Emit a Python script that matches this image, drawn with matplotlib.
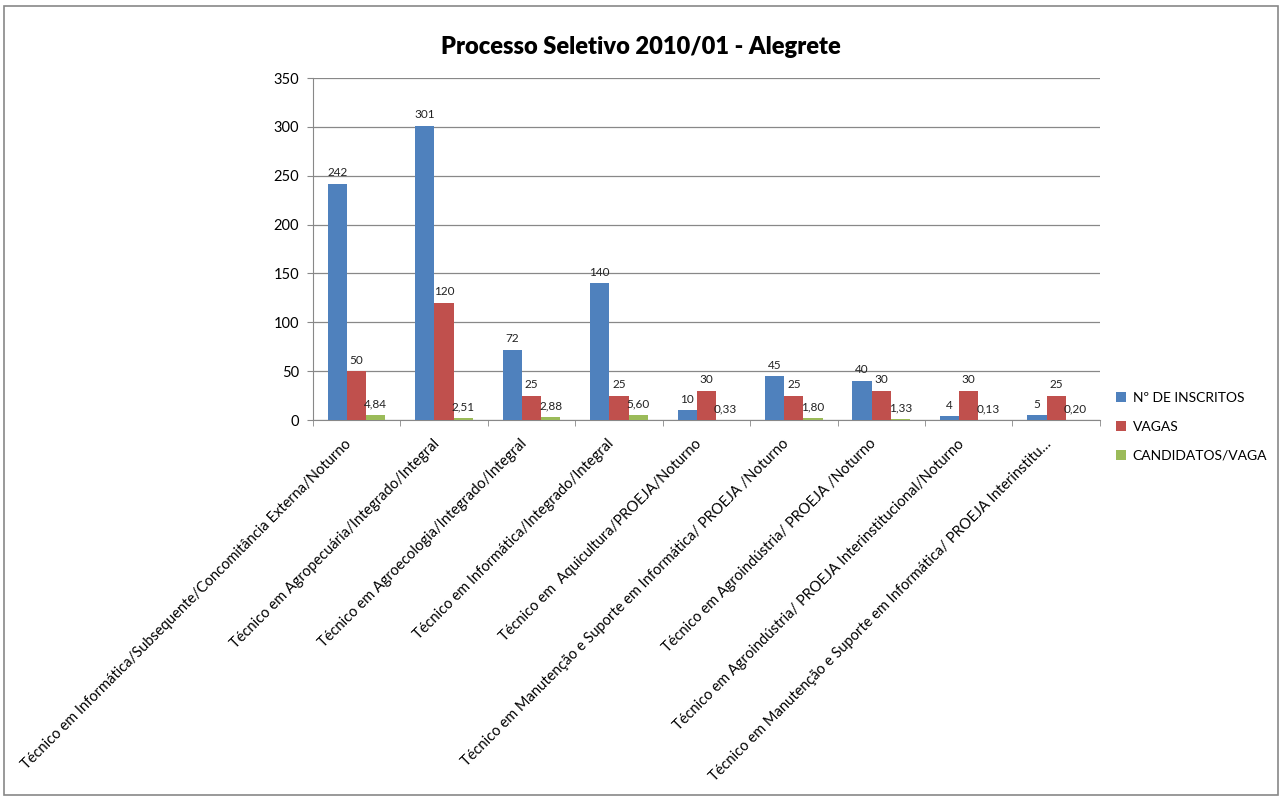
import matplotlib
matplotlib.use("Agg")
import matplotlib.pyplot as plt
import matplotlib.transforms as mtransforms
import numpy as np
from matplotlib.patches import Rectangle

categories = [
    "Técnico em Informática/Subsequente/Concomitância Externa/Noturno",
    "Técnico em Agropecuária/Integrado/Integral",
    "Técnico em Agroecologia/Integrado/Integral",
    "Técnico em Informática/Integrado/Integral",
    "Técnico em  Aquicultura/PROEJA/Noturno",
    "Técnico em Manutenção e Suporte em Informática/ PROEJA /Noturno",
    "Técnico em Agroindústria/ PROEJA /Noturno",
    "Técnico em Agroindústria/ PROEJA Interinstitucional/Noturno",
    "Técnico em Manutenção e Suporte em Informática/ PROEJA Interinstitu…",
]
inscritos = [242, 301, 72, 140, 10, 45, 40, 4, 5]
vagas = [50, 120, 25, 25, 30, 25, 30, 30, 25]
cand_vaga = [4.84, 2.51, 2.88, 5.60, 0.33, 1.80, 1.33, 0.13, 0.20]
series_names = ["Nº DE INSCRITOS", "VAGAS", "CANDIDATOS/VAGA"]
colors = ["#4F81BD", "#C0504D", "#9BBB59"]
yticks = [0, 50, 100, 150, 200, 250, 300, 350]

plt.rcParams['font.family'] = ['Lato', 'DejaVu Sans']

fig = plt.figure(figsize=(12.82, 7.97), dpi=100)
fig.patches.append(Rectangle((0.003, 0.003), 0.994, 0.99, transform=fig.transFigure,
                             fill=False, edgecolor="#888888", linewidth=1.2))
ax = fig.add_axes([0.244, 0.473, 0.614, 0.429])

x = np.arange(len(categories))
w = 0.22
series = [inscritos, vagas, cand_vaga]
for i, (vals, c, name) in enumerate(zip(series, colors, series_names)):
    pos = x + (i - 1) * w
    ax.bar(pos, vals, width=w, color=c, label=name, zorder=3)
    for p, v in zip(pos, vals):
        txt = f"{v:.2f}".replace(".", ",") if i == 2 else f"{v:d}"
        ax.annotate(txt, (p, v), xytext=(0, 4), textcoords="offset points",
                    ha="center", va="bottom", fontsize=8.5, color="#222222")

ax.set_xlim(-0.5, len(categories) - 0.5)
ax.set_ylim(0, 350)
ax.set_yticks(yticks)
ax.set_yticklabels([str(t) for t in yticks], fontsize=10.5)
ax.yaxis.grid(True, color="#888888", linewidth=0.9, zorder=0)
ax.set_axisbelow(True)
for s in ["top", "right"]:
    ax.spines[s].set_visible(False)
ax.spines["left"].set_color("#888888")
ax.spines["bottom"].set_color("#888888")
ax.tick_params(axis="y", length=4, color="#888888", pad=6)

ax.set_xticks(x)
ax.set_xticklabels(categories, rotation=45, ha="right", rotation_mode="anchor", fontsize=10.5)
ax.tick_params(axis="x", length=0, pad=12)
offset = mtransforms.ScaledTranslation(-12 / 100, 0, fig.dpi_scale_trans)
for lbl in ax.get_xticklabels():
    lbl.set_transform(lbl.get_transform() + offset)
ax.set_xticks(np.arange(-0.5, len(categories)), minor=True)
ax.tick_params(axis="x", which="minor", length=4, color="#888888")

fig.suptitle("Processo Seletivo 2010/01 - Alegrete", x=0.5, y=0.955, fontsize=17, fontweight="heavy")

ax.legend(loc="center left", bbox_to_anchor=(1.01, -0.02), frameon=False, fontsize=10,
          handlelength=0.7, handleheight=0.7, labelspacing=1.2, handletextpad=0.5,
          borderaxespad=0.2)

fig.savefig("out.png", dpi=100)
